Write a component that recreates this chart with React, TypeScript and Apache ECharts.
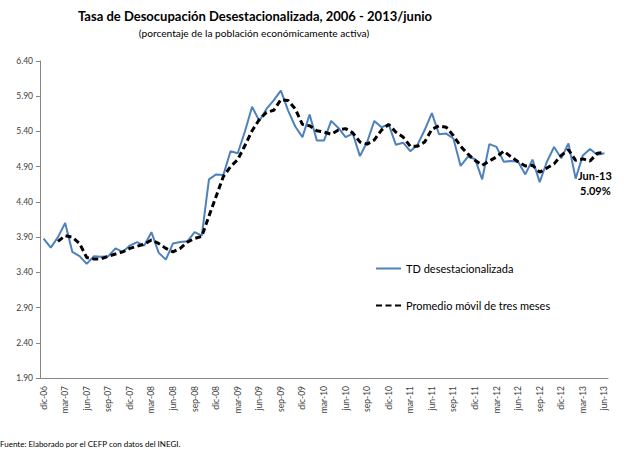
import React, { useEffect, useRef } from 'react';
import * as echarts from 'echarts';

const months = [
  'dic-06',
  'ene-07', 'feb-07', 'mar-07', 'abr-07', 'may-07', 'jun-07', 'jul-07', 'ago-07', 'sep-07', 'oct-07', 'nov-07', 'dic-07',
  'ene-08', 'feb-08', 'mar-08', 'abr-08', 'may-08', 'jun-08', 'jul-08', 'ago-08', 'sep-08', 'oct-08', 'nov-08', 'dic-08',
  'ene-09', 'feb-09', 'mar-09', 'abr-09', 'may-09', 'jun-09', 'jul-09', 'ago-09', 'sep-09', 'oct-09', 'nov-09', 'dic-09',
  'ene-10', 'feb-10', 'mar-10', 'abr-10', 'may-10', 'jun-10', 'jul-10', 'ago-10', 'sep-10', 'oct-10', 'nov-10', 'dic-10',
  'ene-11', 'feb-11', 'mar-11', 'abr-11', 'may-11', 'jun-11', 'jul-11', 'ago-11', 'sep-11', 'oct-11', 'nov-11', 'dic-11',
  'ene-12', 'feb-12', 'mar-12', 'abr-12', 'may-12', 'jun-12', 'jul-12', 'ago-12', 'sep-12', 'oct-12', 'nov-12', 'dic-12',
  'ene-13', 'feb-13', 'mar-13', 'abr-13', 'may-13', 'jun-13',
];

const tdDesestacionalizada = [
  3.88,
  3.75, 3.90, 4.10, 3.69, 3.63, 3.52, 3.63, 3.62, 3.63, 3.74, 3.69, 3.78,
  3.83, 3.78, 3.97, 3.68, 3.58, 3.81, 3.83, 3.84, 3.97, 3.92, 4.72, 4.79,
  4.78, 5.12, 5.09, 5.40, 5.75, 5.55, 5.72, 5.84, 5.98, 5.70, 5.47, 5.32,
  5.64, 5.27, 5.27, 5.55, 5.45, 5.32, 5.37, 5.05, 5.25, 5.55, 5.46, 5.50,
  5.21, 5.24, 5.12, 5.21, 5.42, 5.66, 5.36, 5.37, 5.30, 4.91, 5.04, 5.01,
  4.72, 5.22, 5.18, 4.97, 4.98, 4.97, 4.79, 5.00, 4.68, 4.97, 5.18, 5.02,
  5.23, 4.73, 5.06, 5.15, 5.07, 5.09,
];

const promedioMovil = [
  null,
  null, 3.84, 3.92, 3.90, 3.81, 3.61, 3.59, 3.59, 3.63, 3.66, 3.69, 3.74,
  3.77, 3.80, 3.86, 3.81, 3.74, 3.69, 3.74, 3.83, 3.88, 3.91, 4.20, 4.48,
  4.76, 4.90, 5.00, 5.20, 5.41, 5.57, 5.67, 5.70, 5.85, 5.84, 5.72, 5.50,
  5.48, 5.41, 5.39, 5.36, 5.42, 5.44, 5.38, 5.25, 5.22, 5.28, 5.42, 5.50,
  5.39, 5.32, 5.19, 5.19, 5.25, 5.43, 5.48, 5.46, 5.34, 5.19, 5.08, 4.99,
  4.92, 4.98, 5.04, 5.12, 5.04, 4.97, 4.91, 4.92, 4.82, 4.88, 4.94, 5.06,
  5.14, 4.99, 5.01, 4.98, 5.09, 5.10,
];

const FONT = 'Lato, "Open Sans", sans-serif';

export default function App() {
  const ref = useRef<HTMLDivElement>(null);
  useEffect(() => {
    const chart = echarts.init(ref.current!, null, { renderer: 'svg' });
    chart.setOption({
      animation: false,
      backgroundColor: '#ffffff',
      textStyle: { fontFamily: FONT },
      grid: { left: 40, right: 16, top: 61, bottom: 72, containLabel: false },
      xAxis: {
        type: 'category',
        data: months,
        boundaryGap: true,
        axisLine: { show: true, lineStyle: { color: '#868686', width: 1 } },
        axisTick: { show: false },
        axisLabel: {
          interval: 2,
          rotate: 90,
          fontSize: 8.5,
          color: '#404040',
          margin: 8,
          fontFamily: FONT,
        },
        splitLine: { show: false },
      },
      yAxis: {
        type: 'value',
        min: 1.9,
        max: 6.4,
        interval: 0.5,
        axisLine: { show: true, lineStyle: { color: '#868686', width: 1 } },
        axisTick: { show: true, length: 4, lineStyle: { color: '#868686' } },
        axisLabel: {
          fontSize: 8.5,
          color: '#404040',
          margin: 7,
          fontFamily: FONT,
          formatter: (v: number) => v.toFixed(2),
        },
        splitLine: { show: false },
      },
      legend: {
        orient: 'vertical',
        left: 375,
        top: 263,
        padding: 0,
        itemGap: 26,
        itemWidth: 25,
        itemHeight: 12,
        itemStyle: { opacity: 0 },
        textStyle: { fontSize: 11, color: '#000000', fontFamily: FONT },
        data: ['TD desestacionalizada', 'Promedio móvil de tres meses'],
      },
      series: [
        {
          name: 'TD desestacionalizada',
          type: 'line',
          data: tdDesestacionalizada,
          symbol: 'none',
          lineStyle: { color: '#4F81BD', width: 2 },
          itemStyle: { color: '#4F81BD' },
          z: 2,
        },
        {
          name: 'Promedio móvil de tres meses',
          type: 'line',
          data: promedioMovil,
          symbol: 'none',
          connectNulls: false,
          lineStyle: { color: '#000000', width: 3, type: [6, 3.5] },
          itemStyle: { color: '#000000' },
          z: 3,
        },
      ],
      graphic: [
        {
          type: 'text',
          x: 255,
          y: 16,
          style: {
            text: 'Tasa de Desocupación Desestacionalizada, 2006 - 2013/junio',
            fontSize: 13,
            fontWeight: 'bold',
            fontFamily: FONT,
            fill: '#000000',
            align: 'center',
            verticalAlign: 'middle',
          },
        },
        {
          type: 'text',
          x: 254,
          y: 33,
          style: {
            text: '(porcentaje de la población económicamente activa)',
            fontSize: 10.2,
            fontFamily: FONT,
            fill: '#000000',
            align: 'center',
            verticalAlign: 'middle',
          },
        },
        {
          type: 'text',
          x: 578,
          y: 175,
          style: {
            text: 'Jun-13',
            fontSize: 11,
            fontWeight: 'bold',
            fontFamily: FONT,
            fill: '#000000',
            align: 'left',
            verticalAlign: 'middle',
          },
        },
        {
          type: 'text',
          x: 580,
          y: 190,
          style: {
            text: '5.09%',
            fontSize: 11,
            fontWeight: 'bold',
            fontFamily: FONT,
            fill: '#000000',
            align: 'left',
            verticalAlign: 'middle',
          },
        },
        {
          type: 'text',
          x: 0,
          y: 444,
          style: {
            text: 'Fuente: Elaborado por el CEFP con datos del INEGI.',
            fontSize: 8,
            fontFamily: FONT,
            fill: '#000000',
            align: 'left',
            verticalAlign: 'middle',
          },
        },
      ],
    });
    return () => chart.dispose();
  }, []);
  return <div ref={ref} style={{ position: 'fixed', left: 0, top: 0, width: 624, height: 450 }} />;
}
